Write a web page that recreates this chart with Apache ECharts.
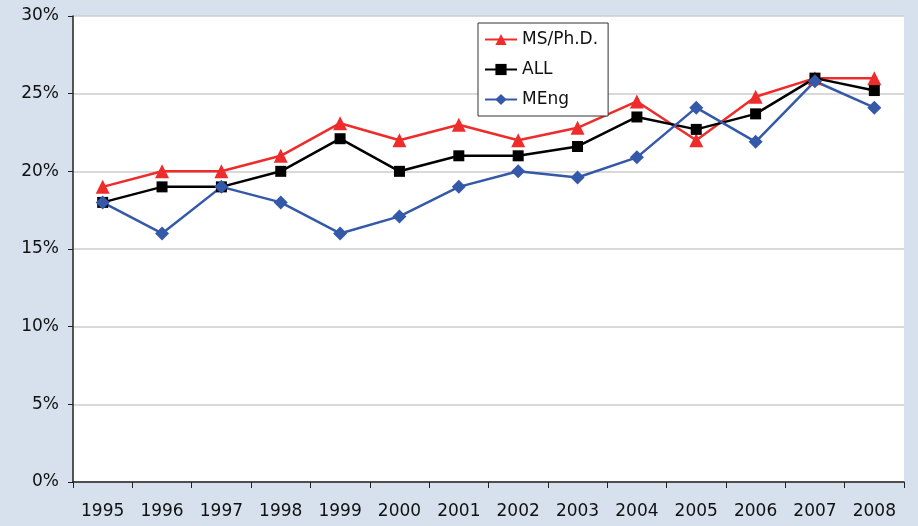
<!DOCTYPE html>
<html>
<head>
<meta charset="utf-8">
<script src="https://cdn.jsdelivr.net/npm/echarts@6/dist/echarts.min.js"></script>
<style>
  html, body { margin: 0; padding: 0; background: #d6e1ed; }
  #main { width: 918px; height: 526px; }
</style>
</head>
<body>
<div id="main"></div>
<script>
// 数据
const years = ['1995', '1996', '1997', '1998', '1999', '2000', '2001', '2002', '2003', '2004', '2005', '2006', '2007', '2008'];
const msPhd = [19, 20, 20, 21, 23.1, 22, 23, 22, 22.8, 24.5, 22, 24.8, 26, 26];
const all = [18, 19, 19, 20, 22.1, 20, 21, 21, 21.6, 23.5, 22.7, 23.7, 26, 25.2];
const meng = [18, 16, 19, 18, 16, 17.1, 19, 20, 19.6, 20.9, 24.1, 21.9, 25.8, 24.1];

const font = 'DejaVu Sans, Verdana, sans-serif';

function mkSeries(name, data, color, symbol, size) {
  return {
    name: name,
    type: 'line',
    data: data,
    symbol: symbol,
    symbolSize: size,
    lineStyle: { color: color, width: 2.5 },
    itemStyle: { color: color },
    emphasis: { disabled: true },
    z: 3
  };
}

const chart = echarts.init(document.getElementById('main'));
chart.setOption({
  backgroundColor: '#d6e1ed',
  animation: false,
  grid: {
    left: 73, right: 14, top: 16, bottom: 44,
    show: true, backgroundColor: '#ffffff', borderWidth: 0
  },
  legend: {
    orient: 'vertical',
    left: 478,
    top: 23,
    backgroundColor: '#ffffff',
    borderColor: '#333333',
    borderWidth: 1,
    padding: [8, 10, 8, 6],
    itemGap: 13,
    itemWidth: 32,
    itemHeight: 14,
    textStyle: { fontFamily: font, fontSize: 17, color: '#111' },
    data: ['MS/Ph.D.', 'ALL', 'MEng']
  },
  xAxis: {
    type: 'category',
    data: years,
    boundaryGap: true,
    axisLine: { lineStyle: { color: '#222', width: 1.5 } },
    axisTick: { show: true, length: 6, lineStyle: { color: '#222' } },
    axisLabel: { margin: 21, fontFamily: font, fontSize: 17, color: '#111' },
    splitLine: { show: false }
  },
  yAxis: {
    type: 'value',
    min: 0, max: 30, interval: 5,
    axisLine: { show: true, lineStyle: { color: '#222', width: 1.5 } },
    axisTick: { show: true, length: 5, lineStyle: { color: '#222' } },
    axisLabel: { margin: 14, fontFamily: font, fontSize: 17, color: '#111', formatter: '{value}%', padding: [6, 0, 0, 0] },
    splitLine: { lineStyle: { color: '#cccccc', width: 1.5 } }
  },
  series: [
    mkSeries('MS/Ph.D.', msPhd, '#ee2c2c', 'triangle', 14),
    mkSeries('ALL', all, '#000000', 'rect', 11),
    mkSeries('MEng', meng, '#3459a8', 'diamond', 14)
  ]
});
</script>
</body>
</html>
